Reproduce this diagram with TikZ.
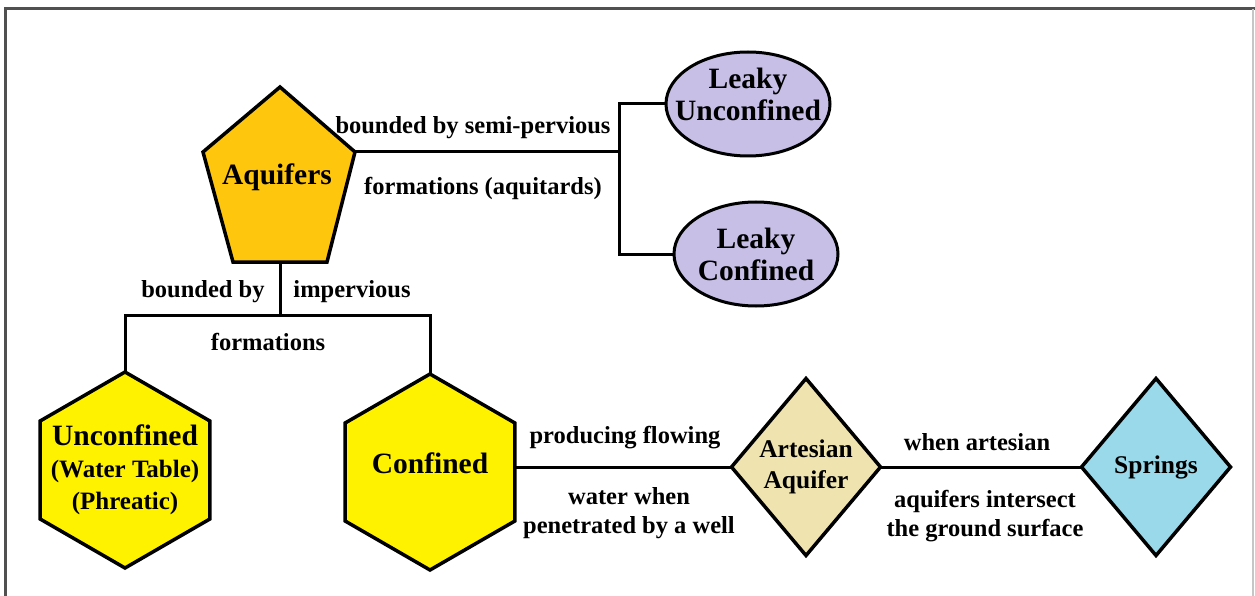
\documentclass[tikz,border=0pt]{standalone}
\usepackage{fontspec}
\setmainfont{Liberation Serif}[BoldFont={Liberation Serif Bold}]
\newfontfamily\diagfont{Liberation Serif}[BoldFont={Liberation Serif Bold}]
\usetikzlibrary{shapes.geometric, positioning, calc}
\definecolor{cGold}{RGB}{255,198,14}
\definecolor{cYellow}{RGB}{255,242,0}
\definecolor{cLilac}{RGB}{200,191,231}
\definecolor{cSand}{RGB}{239,228,176}
\definecolor{cSky}{RGB}{153,217,234}
\definecolor{cFrame}{RGB}{80,80,80}
\tikzset{
	hexa/.style ={regular polygon, regular polygon sides=6, shape border rotate=30, minimum size=196pt, inner sep=0pt, outer sep=0pt, draw=black, line width=3.5pt, fill=cYellow},
	leaky/.style={ellipse, minimum width=164pt, minimum height=104pt, inner sep=0pt, outer sep=0pt, draw=black, line width=3pt, fill=cLilac},
	dia/.style  ={diamond, minimum width=149pt, minimum height=177pt, inner sep=0pt, outer sep=0pt, draw=black, line width=3.5pt},
	big/.style  ={align=center, inner sep=0pt, font=\diagfont\bfseries\fontsize{29.5}{32}\selectfont},
	mid/.style  ={align=center, inner sep=0pt, font=\diagfont\bfseries\fontsize{25.5}{31}\selectfont},
	txt/.style  ={align=center, inner sep=0pt, font=\diagfont\bfseries\fontsize{24.5}{29}\selectfont},
	link/.style ={line width=3pt},
}

\begin{document}
\begin{tikzpicture}[x=1pt, y=-1pt]
	\useasboundingbox (0,0) rectangle (1255,596);
	% frame
	\draw[cFrame, line width=3pt] (5,596) -- (5,9) -- (1255,9);
	\draw[gray!45, line width=1.5pt] (1253,9) -- (1253,596);

	% aquifers pentagon
	\coordinate (aqT) at (280,87);
	\coordinate (aqR) at (355,152);
	\coordinate (aqBR) at (327,262);
	\coordinate (aqBL) at (233,262);
	\coordinate (aqL) at (203,152);
	\coordinate (aqB) at (280,262);
	\filldraw[fill=cGold, line width=3.5pt, line join=miter] (aqT) -- (aqR) -- (aqBR) -- (aqBL) -- (aqL) -- cycle;
	\node[big] (aq) at (277,177) {Aquifers};

	% leaky branch
	\node[leaky, label={[big, yshift=10pt]center:Leaky\\Unconfined}] (lu) at (748,104) {};
	\node[leaky, label={[big]center:Leaky\\Confined}] (lc) at (756,254) {};
	\coordinate (split) at (619,152);
	\draw[link] (aqR) -- (split);
	\draw[link] (lu.west) -| (split) |- (lc.west);
	\node[txt] (t1) at (473,128) {bounded by semi-pervious};
	\node[txt] (t2) at (483,188) {formations (aquitards)};

	% impervious branch
	\node[hexa, label={[big]center:Unconfined\\{\fontsize{25}{29}\selectfont (Water Table)}\\{\fontsize{25}{29}\selectfont (Phreatic)}}] (unc) at (125,470) {};
	\node[hexa, label={[big, yshift=9pt]center:Confined}] (conf) at (430,472) {};
	\coordinate (jn) at (280,315);
	\draw[link] (aqB) -- (jn);
	\draw[link] (unc.north) |- (jn) -| (conf.north);
	\node[txt] (t3) at (203,292) {bounded by};
	\node[txt] (t4) at (352,292) {impervious};
	\node[txt] (t5) at (268,342) {formations};

	% artesian and springs
	\node[dia, fill=cSand, label={[mid]center:Artesian\\Aquifer}] (art) at (806,467) {};
	\node[dia, fill=cSky, label={[mid]center:Springs}] (spr) at (1156,467) {};
	\draw[link] (art.west -| conf.east) -- (art.west);
	\draw[link] (art.east) -- (spr.west);
	\node[txt] (t6) at (625,438) {producing flowing};
	\node[txt] (t7) at (629,513) {water when\\penetrated by a well};
	\node[txt] (t8) at (977,442) {when artesian};
	\node[txt] (t9) at (985,516) {aquifers intersect\\the ground surface};
\end{tikzpicture}
\end{document}
